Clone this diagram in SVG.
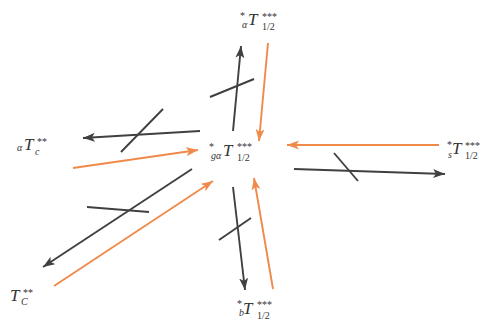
<svg xmlns="http://www.w3.org/2000/svg" width="482" height="321" viewBox="0 0 482 321">
<style>
.k{stroke:#404040;stroke-width:1.9;fill:none}
.o{stroke:#f08a4b;stroke-width:1.9;fill:none}
.ka{marker-end:url(#ah)}
.oa{marker-end:url(#ao)}
text{font-family:"Liberation Serif","DejaVu Serif",serif;fill:#333}
.T{font-style:italic;font-size:17px}
.i{font-style:italic;font-size:10px}
.s{font-size:10px}
</style>
<defs>
<marker id="ah" markerUnits="userSpaceOnUse" markerWidth="13" markerHeight="10" refX="12" refY="4.5" orient="auto">
<path d="M0,0 L12,4.5 L0,9 L3,4.5 z" fill="#404040"/>
</marker>
<marker id="ao" markerUnits="userSpaceOnUse" markerWidth="13" markerHeight="10" refX="12" refY="4.5" orient="auto">
<path d="M0,0 L12,4.5 L0,9 L3,4.5 z" fill="#f08a4b"/>
</marker>
</defs>
<g id="connectors">
<line class="k ka" x1="233" y1="131" x2="241" y2="46"/>
<line class="k" x1="210" y1="97" x2="254" y2="79"/>
<line class="o oa" x1="268" y1="43" x2="259" y2="141"/>
<line class="o oa" x1="439" y1="145" x2="287" y2="145"/>
<line class="k ka" x1="294" y1="169" x2="445" y2="174"/>
<line class="k" x1="334" y1="153" x2="358" y2="181"/>
<line class="k ka" x1="233" y1="187" x2="245" y2="290"/>
<line class="k" x1="219" y1="240" x2="251" y2="218"/>
<line class="o oa" x1="273" y1="289" x2="254" y2="178"/>
<line class="k ka" x1="200" y1="131" x2="83" y2="138"/>
<line class="k" x1="121" y1="152" x2="163" y2="109"/>
<line class="o oa" x1="73" y1="168" x2="198" y2="150"/>
<line class="k ka" x1="192" y1="169" x2="43" y2="267"/>
<line class="k" x1="87" y1="207" x2="149" y2="212"/>
<line class="o oa" x1="54" y1="286" x2="213" y2="181"/>
</g>
<g id="n-center">
<text><tspan class="s" x="209" y="150">*</tspan><tspan class="i" x="211" y="159">gα</tspan><tspan class="T" x="223" y="156">T</tspan><tspan class="s" x="237" y="150">***</tspan><tspan class="s" x="237" y="161">1/2</tspan></text>
</g>
<g id="n-top">
<text><tspan class="s" x="240" y="19">*</tspan><tspan class="i" x="242" y="28">α</tspan><tspan class="T" x="248" y="25">T</tspan><tspan class="s" x="262" y="20">***</tspan><tspan class="s" x="262" y="30">1/2</tspan></text>
</g>
<g id="n-left">
<text><tspan class="i" x="17" y="151">α</tspan><tspan class="T" x="24" y="150">T</tspan><tspan class="s" x="37" y="145">**</tspan><tspan class="i" x="35" y="155">c</tspan></text>
</g>
<g id="n-right">
<text><tspan class="s" x="447" y="148">*</tspan><tspan class="i" x="448" y="158">s</tspan><tspan class="T" x="452" y="154">T</tspan><tspan class="s" x="465" y="149">***</tspan><tspan class="s" x="465" y="159">1/2</tspan></text>
</g>
<g id="n-bottomleft">
<text><tspan class="T" x="10" y="301">T</tspan><tspan class="s" x="23" y="296">**</tspan><tspan class="i" x="21" y="305">C</tspan></text>
</g>
<g id="n-bottom">
<text><tspan class="s" x="237" y="307">*</tspan><tspan class="i" x="239" y="316">b</tspan><tspan class="T" x="243" y="314">T</tspan><tspan class="s" x="257" y="308">***</tspan><tspan class="s" x="257" y="319">1/2</tspan></text>
</g>
</svg>
